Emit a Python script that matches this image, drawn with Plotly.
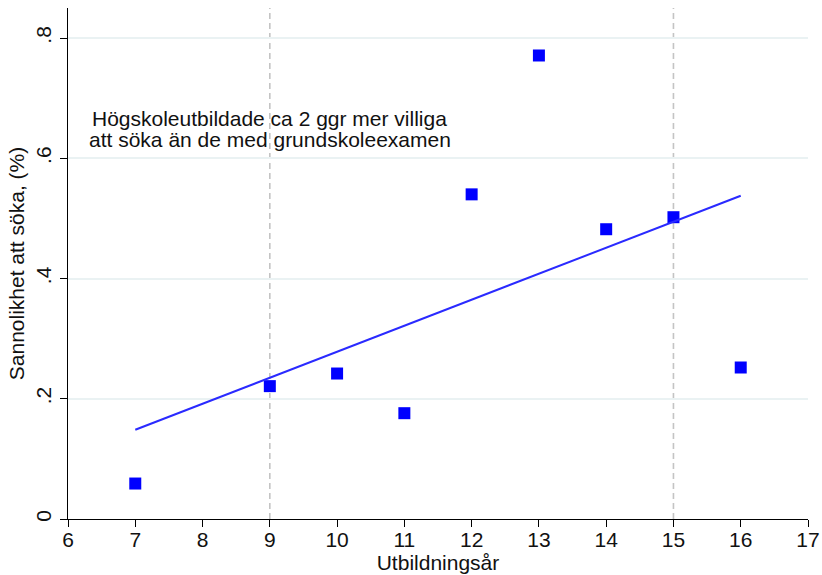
import plotly.graph_objects as go

# Data
years = [7, 9, 10, 11, 12, 13, 14, 15, 16]
prob = [0.059, 0.221, 0.242, 0.176, 0.540, 0.771, 0.482, 0.502, 0.252]
fit_x = [7, 16]
fit_y = [0.1485, 0.5377]
ref_lines = [9, 15]
x_ticks = list(range(6, 18))
y_ticks = [0, 0.2, 0.4, 0.6, 0.8]
y_tick_labels = ["0", ".2", ".4", ".6", ".8"]
note_lines = ["Högskoleutbildade ca 2 ggr mer villiga", "att söka än de med grundskoleexamen"]
note_x = 9
note_y = [0.666, 0.632]

FONT = "Liberation Sans, Arial, Helvetica, sans-serif"

fig = go.Figure()

for xv in ref_lines:
    fig.add_shape(type="line", xref="x", yref="paper", x0=xv, x1=xv, y0=0, y1=1,
                  line=dict(color="#c4c4c4", width=1.6, dash="6px,4px"), layer="below")

fig.add_trace(go.Scatter(x=years, y=prob, mode="markers",
                         marker=dict(symbol="square", size=12, color="#0000ff",
                                     line=dict(width=0)),
                         showlegend=False))
fig.add_trace(go.Scatter(x=fit_x, y=fit_y, mode="lines",
                         line=dict(color="#2a2aff", width=2),
                         showlegend=False))

for txt, yv in zip(note_lines, note_y):
    fig.add_annotation(x=note_x, y=yv, xref="x", yref="y",
                       text=txt, showarrow=False,
                       font=dict(family=FONT, size=21, color="#111111"),
                       align="center", xanchor="center", yanchor="middle")

fig.update_xaxes(range=[6, 17], tickvals=x_ticks, ticktext=[str(t) for t in x_ticks],
                 showgrid=False, zeroline=False, showline=True, linecolor="black",
                 linewidth=1.3, ticks="outside", ticklen=7, tickwidth=1.3, tickcolor="black",
                 ticklabelstandoff=-5,
                 tickfont=dict(family=FONT, size=21, color="#111111"),
                 title=dict(text="Utbildningsår", font=dict(family=FONT, size=21, color="#111111"),
                            standoff=0))
fig.update_yaxes(range=[0, 0.85], tickvals=y_ticks, ticktext=y_tick_labels, tickangle=-90,
                 showgrid=True, gridcolor="#eaf2f3", gridwidth=2, zeroline=False,
                 showline=True, linecolor="black", linewidth=1.3, ticks="outside",
                 ticklen=7, tickwidth=1.3, tickcolor="black",
                 tickfont=dict(family=FONT, size=21, color="#111111"),
                 title=dict(text="Sannolikhet att söka, (%)",
                            font=dict(family=FONT, size=21, color="#111111"), standoff=2))

fig.update_layout(width=822, height=575, plot_bgcolor="white", paper_bgcolor="white",
                  margin=dict(l=68, r=14, t=8, b=56, autoexpand=False),
                  font=dict(family=FONT))

fig.write_html("out.html", config={"displayModeBar": False},
               post_script="document.body.style.margin='0';document.body.style.overflow='hidden';")
